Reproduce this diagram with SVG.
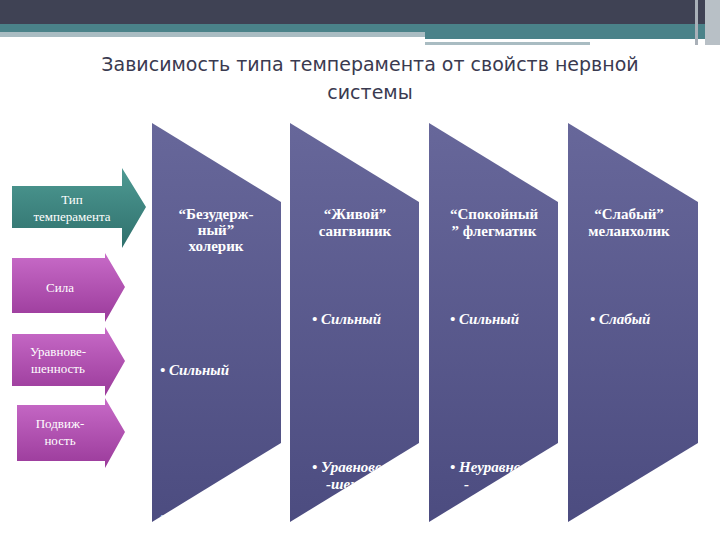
<svg xmlns="http://www.w3.org/2000/svg" width="720" height="540" viewBox="0 0 720 540">
<defs>
<linearGradient id="col" x1="0" y1="0" x2="0" y2="1"><stop offset="0" stop-color="#67679a"/><stop offset="1" stop-color="#4c4c80"/></linearGradient>
<linearGradient id="mag" x1="0" y1="0" x2="0" y2="1"><stop offset="0" stop-color="#c86bc8"/><stop offset="1" stop-color="#9a3a9a"/></linearGradient>
<linearGradient id="teal" x1="0" y1="0" x2="0" y2="1"><stop offset="0" stop-color="#4e9a93"/><stop offset="1" stop-color="#2f706c"/></linearGradient>
<clipPath id="c1"><path d="M152,123 L281,202 L281,443 L152,522 Z"/></clipPath>
<clipPath id="c2"><path d="M290,123 L419,202 L419,443 L290,522 Z"/></clipPath>
<clipPath id="c3"><path d="M429,123 L558,202 L558,443 L429,522 Z"/></clipPath>
<clipPath id="c4"><path d="M568,123 L698,202 L698,443 L568,522 Z"/></clipPath>
</defs>
<style>
.h{font-family:"Liberation Serif","DejaVu Serif",serif;font-weight:bold;font-size:15px;fill:#fff;text-anchor:middle}
.b{font-family:"Liberation Serif","DejaVu Serif",serif;font-weight:bold;font-style:italic;font-size:15px;fill:#fff}
.l{font-family:"Liberation Serif","DejaVu Serif",serif;font-size:13px;fill:#fff;text-anchor:middle}
.t{font-family:"DejaVu Sans","Liberation Sans",sans-serif;font-size:19px;fill:#3a3a50;text-anchor:middle}
</style>
<rect width="720" height="540" fill="#fff"/>
<rect x="0" y="0" width="720" height="24" fill="#3f4254"/>
<rect x="0" y="24" width="720" height="9" fill="#4a8289"/>
<rect x="0" y="32" width="425" height="5" fill="#a9bcc2"/>
<rect x="425" y="33" width="280" height="6" fill="#4a8289"/>
<rect x="425" y="39" width="230" height="3" fill="#ffffff"/>
<rect x="425" y="42" width="165" height="3" fill="#a9bcc2"/>
<rect x="695" y="0" width="3" height="45" fill="#a9b0b8"/>
<rect x="705" y="0" width="15" height="45" fill="#b8c0c6"/>
<text class="t" x="370" y="71">Зависимость типа темперамента от свойств нервной</text>
<text class="t" x="370" y="99">системы</text>
<g id="col1"><path d="M152,123 L281,202 L281,443 L152,522 Z" fill="url(#col)"/>
<g clip-path="url(#c1)"><text class="h" x="216" y="219">“Безудерж-</text><text class="h" x="216" y="235">ный”</text><text class="h" x="216" y="251">холерик</text>
<text class="b" x="160" y="375">• Сильный</text><text class="b" x="160" y="522">•</text></g></g>
<g id="col2"><path d="M290,123 L419,202 L419,443 L290,522 Z" fill="url(#col)"/>
<g clip-path="url(#c2)"><text class="h" x="355" y="219">“Живой”</text><text class="h" x="355" y="236">сангвиник</text>
<text class="b" x="312" y="324">• Сильный</text><text class="b" x="312" y="472">• Уравнове-</text><text class="b" x="326" y="489">-шенный</text></g></g>
<g id="col3"><path d="M429,123 L558,202 L558,443 L429,522 Z" fill="url(#col)"/>
<g clip-path="url(#c3)"><text class="h" x="494" y="219">“Спокойный</text><text class="h" x="494" y="236">” флегматик</text>
<text class="b" x="450" y="324">• Сильный</text><text class="b" x="450" y="472">• Неуравнове</text><text class="b" x="464" y="489">-</text></g></g>
<g id="col4"><path d="M568,123 L698,202 L698,443 L568,522 Z" fill="url(#col)"/>
<g clip-path="url(#c4)"><text class="h" x="629" y="219">“Слабый”</text><text class="h" x="629" y="236">меланхолик</text>
<text class="b" x="590" y="324">• Слабый</text></g></g>
<g id="a-type"><path d="M12,186 L122,186 L122,168 L146,207 L122,248 L122,228 L12,228 Z" fill="url(#teal)"/>
<text class="l" x="72" y="204">Тип</text><text class="l" x="72" y="221">темперамента</text></g>
<g id="a-sila"><path d="M12,258 L105,258 L105,253 L125,287 L105,322 L105,313 L12,313 Z" fill="url(#mag)"/>
<text class="l" x="60" y="292">Сила</text></g>
<g id="a-urav"><path d="M12,334 L105,334 L105,327 L125,361 L105,396 L105,386 L12,386 Z" fill="url(#mag)"/>
<text class="l" x="58" y="356">Уравнове-</text><text class="l" x="58" y="373">шенность</text></g>
<g id="a-podv"><path d="M17,405 L105,405 L105,398 L125,432 L105,468 L105,461 L17,461 Z" fill="url(#mag)"/>
<text class="l" x="60" y="428">Подвиж-</text><text class="l" x="60" y="445">ность</text></g>
<g id="connectors"/>
</svg>
